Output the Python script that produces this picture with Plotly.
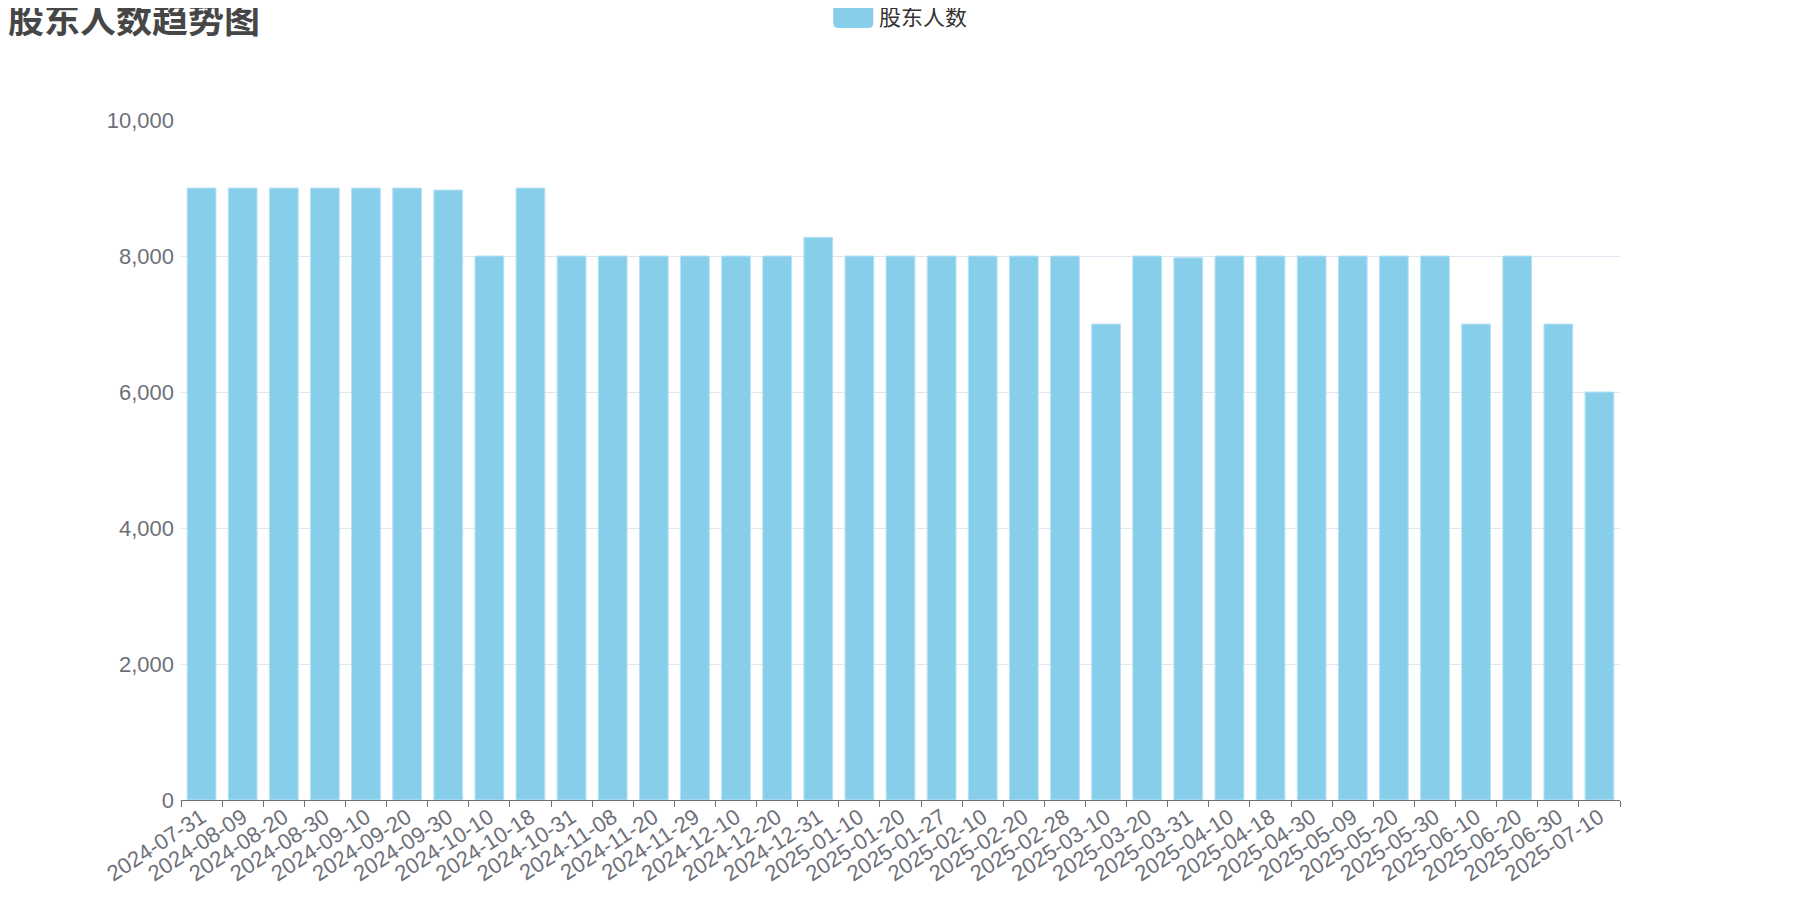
import plotly.graph_objects as go

categories = [
    "2024-07-31", "2024-08-09", "2024-08-20", "2024-08-30", "2024-09-10", "2024-09-20",
    "2024-09-30", "2024-10-10", "2024-10-18", "2024-10-31", "2024-11-08", "2024-11-20",
    "2024-11-29", "2024-12-10", "2024-12-20", "2024-12-31", "2025-01-10", "2025-01-20",
    "2025-01-27", "2025-02-10", "2025-02-20", "2025-02-28", "2025-03-10", "2025-03-20",
    "2025-03-31", "2025-04-10", "2025-04-18", "2025-04-30", "2025-05-09", "2025-05-20",
    "2025-05-30", "2025-06-10", "2025-06-20", "2025-06-30", "2025-07-10",
]
holders = [
    9000, 9000, 9000, 9000, 9000, 9000,
    8970, 8000, 9000, 8000, 8000, 8000,
    8000, 8000, 8000, 8275, 8000, 8000,
    8000, 8000, 8000, 8000, 7000, 8000,
    7975, 8000, 8000, 8000, 8000, 8000,
    8000, 7000, 8000, 7000, 6000,
]
series_name = "股东人数"
title_text = "股东人数趋势图"

# the page body has an 8px margin; figure sized so that it fills the 1800x900 window
OFF = 8
W, H = 1800 - 2 * OFF, 900 - 2 * OFF
PLOT_X0, PLOT_X1, PLOT_Y0, PLOT_Y1 = 180.5, 1620, 120, 800  # in window pixels
L = PLOT_X0 - OFF
T = PLOT_Y0 - OFF
pw = PLOT_X1 - PLOT_X0
ph = PLOT_Y1 - PLOT_Y0
R = W - L - pw
B = H - T - ph

def px_x(x):  # window px -> paper
    return (x - PLOT_X0) / pw

def px_y(y):
    return (PLOT_Y1 - y) / ph

font_family = "Liberation Sans, Arial, Noto Sans CJK SC, sans-serif"

fig = go.Figure()
fig.add_trace(go.Bar(
    x=categories, y=holders, name=series_name,
    marker=dict(color="#87CEEB", line=dict(color="#B9E2F4", width=1)),
    showlegend=False,
))

# legend icon (rounded rect) + text
x0, x1, y0, y1, r = 833, 873, 5, 28, 5
path = (f"M {px_x(x0 + r)},{px_y(y0)} L {px_x(x1 - r)},{px_y(y0)} "
        f"Q {px_x(x1)},{px_y(y0)} {px_x(x1)},{px_y(y0 + r)} "
        f"L {px_x(x1)},{px_y(y1 - r)} Q {px_x(x1)},{px_y(y1)} {px_x(x1 - r)},{px_y(y1)} "
        f"L {px_x(x0 + r)},{px_y(y1)} Q {px_x(x0)},{px_y(y1)} {px_x(x0)},{px_y(y1 - r)} "
        f"L {px_x(x0)},{px_y(y0 + r)} Q {px_x(x0)},{px_y(y0)} {px_x(x0 + r)},{px_y(y0)} Z")
fig.add_shape(type="path", path=path, xref="paper", yref="paper",
              fillcolor="#87CEEB", line=dict(width=0))
fig.add_annotation(text=series_name, x=px_x(877), y=px_y(17), xref="paper", yref="paper",
                   xanchor="left", yanchor="middle", showarrow=False,
                   font=dict(size=22, color="#333333", family=font_family))

fig.update_layout(
    width=W, height=H, autosize=False,
    margin=dict(l=L, r=R, t=T, b=B, pad=0, autoexpand=False),
    paper_bgcolor="white", plot_bgcolor="white",
    title=dict(text=title_text, x=0, xref="container", xanchor="left",
               y=1, yref="container", yanchor="top",
               font=dict(size=36, color="#464646", family=font_family, weight="bold")),
    bargap=0.3,
    font=dict(family=font_family, color="#6E7079"),
    xaxis=dict(
        type="category", tickangle=-33, tickson="boundaries", ticks="outside",
        ticklen=6, tickcolor="#6E7079", showline=True, linecolor="#6E7079", linewidth=1,
        showgrid=False, automargin=False, ticklabelstandoff=-5,
        tickfont=dict(size=22, color="#6E7079"),
    ),
    yaxis=dict(
        range=[0, 10000], dtick=2000, tickformat=",", showgrid=True, gridcolor="#E0E6F1",
        gridwidth=1, zeroline=False, showline=False, ticks="", ticklabelstandoff=6,
        automargin=False, tickfont=dict(size=22, color="#6E7079"),
    ),
)

fig.write_html("out.html")
